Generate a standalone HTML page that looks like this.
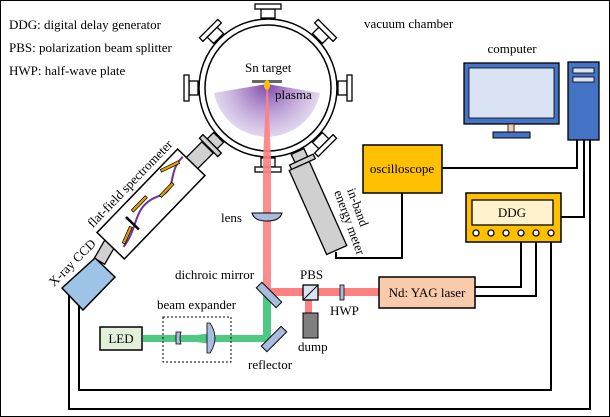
<!DOCTYPE html>
<html><head><meta charset="utf-8"><style>
html,body{margin:0;padding:0;background:#fff;}
svg{display:block;font-family:"Liberation Serif",serif;}
</style></head><body>
<svg width="610" height="417" viewBox="0 0 610 417" xmlns="http://www.w3.org/2000/svg">
<defs>
<radialGradient id="pg" cx="267" cy="84" r="55" gradientUnits="userSpaceOnUse">
<stop offset="0" stop-color="#7030a0" stop-opacity="0.9"/>
<stop offset="1" stop-color="#b9a0d8" stop-opacity="0.4"/>
</radialGradient>
<g id="port"><rect x="-7" y="-79" width="14" height="9" fill="#fff" stroke="#000" stroke-width="1.3"/><rect x="-13" y="-84" width="26" height="5" fill="#fff" stroke="#000" stroke-width="1.3"/></g>
<g id="gport"><rect x="-7" y="-79" width="14" height="9" fill="#d0d0d0" stroke="#000" stroke-width="1.3"/><rect x="-13" y="-84" width="26" height="5" fill="#d0d0d0" stroke="#000" stroke-width="1.3"/></g>
</defs>
<rect x="0.5" y="0.5" width="609" height="416" fill="#fff" stroke="#000" stroke-width="1"/>
<g font-size="13">
<text x="9" y="29">DDG: digital delay generator</text>
<text x="9" y="52">PBS: polarization beam splitter</text>
<text x="9" y="75">HWP: half-wave plate</text>
</g>
<!-- wires -->
<g fill="none" stroke="#000" stroke-width="2">
<path d="M442 168 H577 V140"/>
<path d="M561 217 H584 V140"/>
<path d="M590 140 V409 H69 V295"/>
<path d="M551 233 V390 H79 V300"/>
<path d="M475 287 H521 V233"/>
<path d="M475 296 H536 V233"/>
<path d="M336 252 V258 H402 V193"/>
</g>
<!-- chamber ports -->
<g transform="translate(268,88)">
<use href="#port"/>
<use href="#port" transform="rotate(45)"/>
<use href="#port" transform="rotate(90)"/>
<use href="#port" transform="rotate(135)"/>
<use href="#port" transform="rotate(180)"/>
<use href="#port" transform="rotate(-90)"/>
<use href="#port" transform="rotate(-45)"/>
<use href="#gport" transform="rotate(-135)"/>
<use href="#gport" transform="rotate(155)"/>
</g>
<circle cx="268" cy="88" r="69" fill="#fff" stroke="#000" stroke-width="1.5"/>
<circle cx="268" cy="88" r="63" fill="#fff" stroke="#000" stroke-width="1.5"/>
<path d="M267 84 L214 93 A54 54 0 0 0 320 93 Z" fill="url(#pg)"/>
<text x="245" y="72" font-size="13">Sn target</text>
<rect x="252" y="80" width="30" height="3" fill="#666"/>
<text x="275" y="99" font-size="13">plasma</text>
<!-- red beam -->
<rect x="263" y="160" width="8" height="136" fill="#ff8080" opacity="0.9"/>
<polygon points="266.5,88 268,88 271,160 263,160" fill="#ff8080" opacity="0.9"/>
<ellipse cx="267" cy="85" rx="3" ry="5" fill="#ffc000"/>
<rect x="263" y="288" width="116" height="8" fill="#ff8080"/>
<rect x="305" y="296" width="7" height="17" fill="#ff8080"/>
<!-- green -->
<rect x="263" y="296" width="8" height="46" fill="#4fc882"/>
<rect x="143" y="335" width="128" height="7" fill="#4fc882"/>
<polygon points="180,337 212,333 212,344 180,340" fill="#4fc882"/>
<text x="364" y="28" font-size="13">vacuum chamber</text>
<!-- tubes -->
<g transform="translate(199,156) rotate(45)"><rect x="-8" y="-12" width="16" height="24" fill="#d0d0d0" stroke="#000" stroke-width="1.3"/></g>
<g transform="translate(106,250) rotate(30)"><rect x="-6" y="-13" width="12" height="26" fill="#d0d0d0" stroke="#000" stroke-width="1.3"/></g>
<!-- spectrometer -->
<g transform="translate(151,204) rotate(-46)">
<rect x="-58" y="-19" width="116" height="38" fill="#fff" stroke="#000" stroke-width="1.5"/>
<path d="M-50 10 C-30 8 -20 -4 -5 -4 C10 -4 15 6 25 2 C35 -2 40 -10 56 -10" fill="none" stroke="#7030a0" stroke-width="2"/>
<rect x="-48" y="3" width="18" height="3" fill="#e0a000" stroke="#000" stroke-width="0.7" transform="rotate(-20 -39 4)"/>
<rect x="-18" y="-10" width="20" height="3" fill="#e0a000" stroke="#000" stroke-width="0.7"/>
<rect x="12" y="0" width="18" height="3" fill="#e0a000" stroke="#000" stroke-width="0.7"/>
<rect x="30" y="-14" width="20" height="3" fill="#e0a000" stroke="#000" stroke-width="0.7" transform="rotate(20 40 -12)"/>
<rect x="-28" y="-9" width="2.5" height="18" fill="#000"/>
<text x="0" y="-25" font-size="13" text-anchor="middle">flat-field  spectrometer</text>
</g>
<!-- CCD -->
<polygon points="62,288 95,258 115,277 83,310" fill="#9dc3e6" stroke="#000" stroke-width="1.5"/>
<text font-size="13" transform="translate(54,287) rotate(-45)">X-ray CCD</text>
<!-- energy meter -->
<g transform="translate(318,208) rotate(-24)">
<rect x="-11" y="-46" width="22" height="92" fill="#d0d0d0" stroke="#000" stroke-width="1.3"/>
</g>
<text font-size="13" transform="translate(347,190) rotate(70)">in-band</text>
<text font-size="13" transform="translate(334,192) rotate(70)">energy meter</text>
<!-- lens -->
<path d="M252 213 H282 Q280 221 267 221 Q254 221 252 213 Z" fill="#a8bce0" stroke="#000" stroke-width="1"/>
<text x="221" y="222" font-size="13">lens</text>
<!-- mirrors -->
<rect x="255" y="291" width="28" height="8" fill="#a8bce0" stroke="#000" stroke-width="1" transform="rotate(45 269 295)"/>
<rect x="260" y="335" width="28" height="8" fill="#a8bce0" stroke="#000" stroke-width="1" transform="rotate(-45 274 339)"/>
<text x="175" y="279" font-size="13">dichroic mirror</text>
<text x="248" y="369" font-size="13">reflector</text>
<!-- PBS -->
<rect x="303" y="285" width="15" height="15" fill="#dae3f3" stroke="#000" stroke-width="1.3"/>
<line x1="303" y1="300" x2="318" y2="285" stroke="#000" stroke-width="1"/>
<text x="300" y="279" font-size="13">PBS</text>
<rect x="340" y="285" width="4" height="15" fill="#a8bce0" stroke="#000" stroke-width="0.8"/>
<text x="330" y="315" font-size="13">HWP</text>
<rect x="303" y="313" width="15" height="25" fill="#7f7f7f" stroke="#000" stroke-width="1"/>
<text x="298" y="351" font-size="13">dump</text>
<!-- YAG -->
<rect x="379" y="277" width="96" height="31" fill="#f8cbad" stroke="#000" stroke-width="1.5"/>
<text x="427" y="297" font-size="13" text-anchor="middle">Nd: YAG laser</text>
<!-- LED & expander -->
<rect x="100" y="327" width="42" height="23" fill="#e2f0d9" stroke="#000" stroke-width="1.5"/>
<text x="121" y="343" font-size="13" text-anchor="middle">LED</text>
<rect x="163" y="317" width="68" height="45" fill="none" stroke="#000" stroke-width="1" stroke-dasharray="2,2"/>
<text x="157" y="309" font-size="13">beam expander</text>
<path d="M176 332 h5 q-2 6 0 12 h-5 z" fill="#a8bce0" stroke="#000" stroke-width="0.8"/>
<path d="M210 323 q10 15 0 30 h-3 v-30 z" fill="#a8bce0" stroke="#000" stroke-width="0.8"/>
<!-- oscilloscope -->
<rect x="363" y="145" width="79" height="48" fill="#ffc000" stroke="#000" stroke-width="1.5"/>
<text x="402" y="173" font-size="13" text-anchor="middle">oscilloscope</text>
<!-- DDG -->
<rect x="466" y="193" width="95" height="49" fill="#ffc000" stroke="#000" stroke-width="1.5"/>
<rect x="472" y="200" width="81" height="25" fill="#fff2cc" stroke="#000" stroke-width="1.3"/>
<text x="512" y="217" font-size="13" text-anchor="middle">DDG</text>
<g fill="#fff" stroke="#000" stroke-width="1.3">
<circle cx="476" cy="233" r="3"/><circle cx="491" cy="233" r="3"/><circle cx="506" cy="233" r="3"/>
<circle cx="521" cy="233" r="3"/><circle cx="536" cy="233" r="3"/><circle cx="551" cy="233" r="3"/>
</g>
<!-- computer -->
<text x="512" y="53" font-size="13" text-anchor="middle">computer</text>
<rect x="464" y="63" width="95" height="61" fill="#4472c4" stroke="#000" stroke-width="1.3"/>
<rect x="469" y="68" width="85" height="50" fill="#dae3f3" stroke="#000" stroke-width="0.8"/>
<rect x="508" y="124" width="6" height="8" fill="#f8cbad" stroke="#000" stroke-width="0.8"/>
<rect x="493" y="132" width="37" height="6" fill="#4472c4" stroke="#000" stroke-width="1"/>
<rect x="568" y="62" width="31" height="78" fill="#4472c4" stroke="#000" stroke-width="1.3"/>
<rect x="573" y="68" width="21" height="5" fill="#dae3f3" stroke="#000" stroke-width="0.8"/>
<rect x="573" y="77" width="21" height="5" fill="#dae3f3" stroke="#000" stroke-width="0.8"/>
</svg>
</body></html>
